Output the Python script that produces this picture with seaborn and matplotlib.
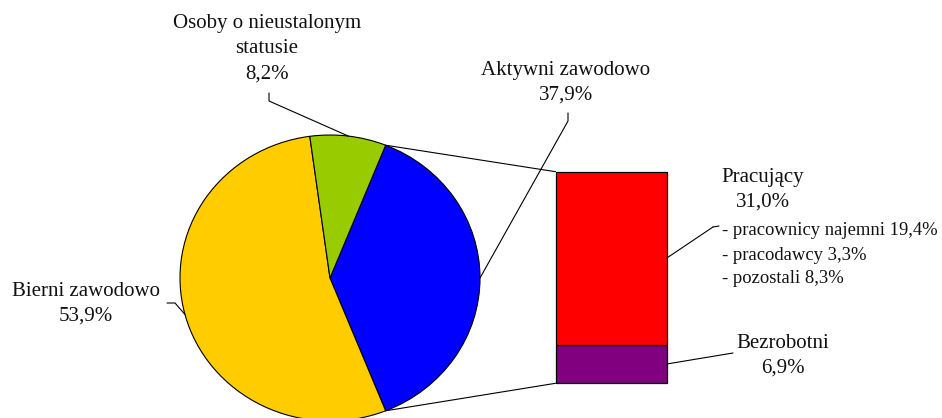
import matplotlib
matplotlib.use("Agg")
import matplotlib.pyplot as plt
from matplotlib.patches import ConnectionPatch
import numpy as np
import seaborn as sns

# ---- data ----
pie_labels = ["Aktywni zawodowo", "Bierni zawodowo", "Osoby o nieustalonym\nstatusie"]
pie_values = [37.9, 53.9, 8.2]
pie_colors = ["#0000FF", "#FFCC00", "#99CC00"]

bar_labels = ["Bezrobotni", "Pracujący"]
bar_values = [6.9, 31.0]
bar_colors = ["#800080", "#FF0000"]

work_detail = ["- pracownicy najemni 19,4%", "- pracodawcy 3,3%", "- pozostali 8,3%"]

def pct(v):
    return f"{v:.1f}%".replace(".", ",")

sns.set_theme(style="white")
plt.rcParams["font.family"] = ["Liberation Serif", "DejaVu Serif"]

W, H = 942, 418
fig = plt.figure(figsize=(W / 100, H / 100), dpi=100)
ax = fig.add_axes([0, 0, 1, 1])

# pixel -> data mapping (pie slightly elliptical: 150 px wide radius, 143 px tall)
k = 150 / 143
def px(x, y):
    return (x, (H - y) * k)

cx, cy = px(330, 278)
R = 150
total = sum(pie_values)
start = 360 * pie_values[0] / total / 2

wedges, _ = ax.pie(pie_values, colors=pie_colors, startangle=start, counterclock=False,
                   center=(cx, cy), radius=R,
                   wedgeprops=dict(edgecolor="black", linewidth=0.8))
ax.set_aspect("auto")
ax.set_xlim(0, W)
ax.set_ylim(0, H * k)
ax.axis("off")

def edge_point(i):
    w = wedges[i]
    a = np.deg2rad((w.theta1 + w.theta2) / 2)
    return cx + R * np.cos(a), cy + R * np.sin(a)

lw = 0.8
fs = 15
ls = 1.43
# pie labels with leaders
label_pos = [(566, 83), (86, 304), (267, 49)]
leader_start = [[(568, 113), (568, 121)], [(167, 303), (175, 303)], [(269, 93), (269, 101)]]
for i, (lab, v) in enumerate(zip(pie_labels, pie_values)):
    tx, ty = label_pos[i]
    ax.text(*px(tx, ty), f"{lab}\n{pct(v)}", ha="center", va="center",
            fontsize=fs, color="#111111", linespacing=ls)
    pts = [px(*p) for p in leader_start[i]] + [edge_point(i)]
    xs, ys = zip(*pts)
    ax.plot(xs, ys, color="black", lw=lw)

# stacked bar for "Aktywni zawodowo"
bx0, bx1, by0, by1 = 555.5, 666.5, 171.7, 383.3
ax2 = fig.add_axes([bx0 / W, (H - by1) / H, (bx1 - bx0) / W, (by1 - by0) / H])
bottom = 0
mids = []
for v, c in zip(bar_values, bar_colors):
    ax2.bar(0, v, bottom=bottom, width=1.0, color=c, edgecolor="black",
            linewidth=0.9, clip_on=False)
    mids.append(bottom + v / 2)
    bottom += v
ax2.set_xlim(-0.5, 0.5)
ax2.set_ylim(0, bottom)
ax2.axis("off")

# connection lines pie -> bar (upper edge to bar top, lower edge to bar bottom)
w0 = wedges[0]
a_hi = np.deg2rad(max(w0.theta1, w0.theta2))
a_lo = np.deg2rad(min(w0.theta1, w0.theta2))
for a, yb in [(a_hi, bottom), (a_lo, 0)]:
    con = ConnectionPatch(xyA=(cx + R * np.cos(a), cy + R * np.sin(a)), coordsA=ax.transData,
                          xyB=(-0.5, yb), coordsB=ax2.transData, color="black", lw=lw)
    fig.add_artist(con)

# bar labels
# Pracujący
ax.text(*px(763, 190), f"{bar_labels[1]}\n{pct(bar_values[1])}", ha="center", va="center",
        fontsize=fs, color="#111111", linespacing=ls)
for j, (line, yy) in enumerate(zip(work_detail, [231, 256, 278.5])):
    ax.text(*px(722, yy), line, ha="left", va="center", fontsize=13.4, color="#111111")
for idx, (lx, ly) in [(1, (713, 227)), (0, (733, 353))]:
    con = ConnectionPatch(xyA=(0.5, mids[idx]), coordsA=ax2.transData,
                          xyB=px(lx, ly), coordsB=ax.transData, color="black", lw=lw)
    fig.add_artist(con)
ax.plot(*zip(px(713, 227), px(719, 226)), color="black", lw=lw)

# Bezrobotni
ax.text(*px(783, 356), f"{bar_labels[0]}\n{pct(bar_values[0])}", ha="center", va="center",
        fontsize=fs, color="#111111", linespacing=ls)

fig.savefig("out.png", dpi=100, facecolor="white")
